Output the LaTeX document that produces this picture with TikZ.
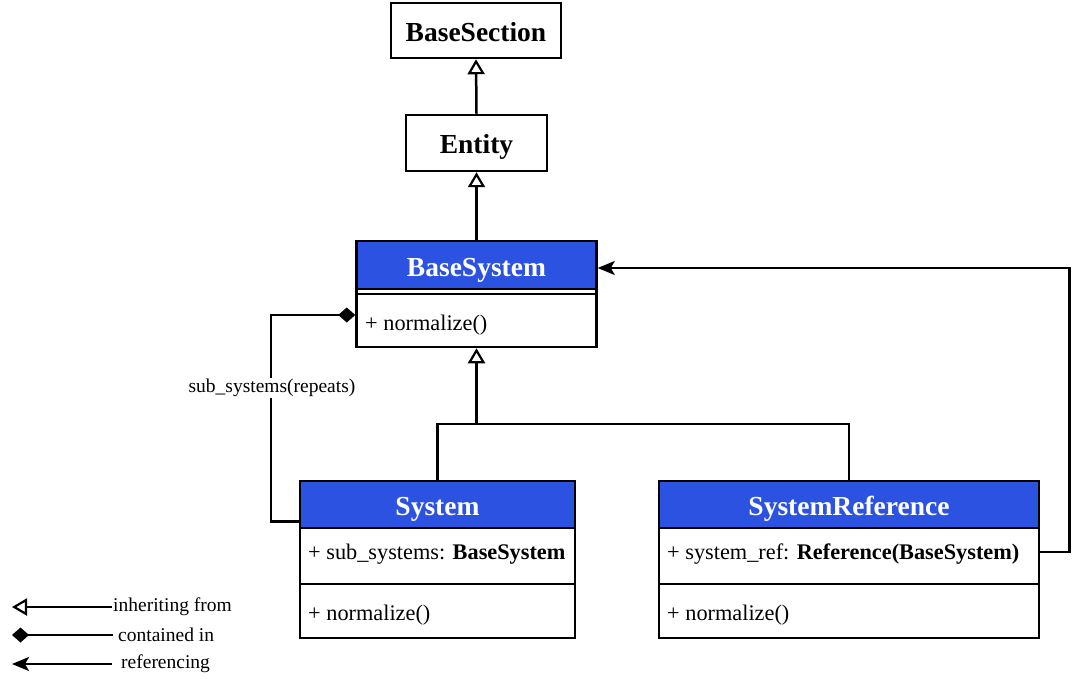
\documentclass[tikz,border=0pt]{standalone}
\usepackage{fontspec}
\setmainfont{Liberation Serif}
\usepackage{tikz}
\usetikzlibrary{arrows.meta, positioning, calc}
\definecolor{hdrblue}{RGB}{43,82,224}
\definecolor{mydark}{RGB}{0,0,0}
\tikzset{
  plainbox/.style={rectangle, draw=mydark, fill=white, line width=2.5pt,
    font=\fontsize{27.5}{32}\selectfont\bfseries, inner sep=0pt, text height=22pt, text depth=0pt},
  hdrbox/.style={rectangle, draw=mydark, fill=hdrblue, text=white, line width=2.5pt,
    font=\fontsize{27.5}{32}\selectfont\bfseries, inner sep=0pt, text height=22pt, text depth=0pt},
  bodybox/.style={rectangle, draw=mydark, fill=white, line width=2.5pt, inner sep=0pt},
  member/.style={anchor=west, font=\fontsize{22.3}{26}\selectfont, inner sep=0pt},
  lbl/.style={font=\fontsize{19.5}{23}\selectfont, inner sep=1pt},
  inherit/.style={-{Triangle[open, fill=white, length=15pt, width=17pt, line width=2.2pt]}, line width=2.5pt, color=mydark},
  contain/.style={-{Diamond[length=17pt, width=15pt]}, line width=2.5pt, color=mydark},
  refer/.style={-{Stealth[length=17pt, width=14pt, inset=4pt]}, line width=2.5pt, color=mydark},
  line/.style={line width=2.5pt, color=mydark}
}
\begin{document}
\begin{tikzpicture}[x=1pt, y=-1pt]
  \useasboundingbox (0,0) rectangle (1081,679);

  % Top classes
  \node[plainbox, minimum width=170pt, minimum height=55pt] (bsec) at (476,30.5) {BaseSection};
  \node[plainbox, minimum width=141pt, minimum height=56pt] (ent) at (476.5,143) {Entity};

  % BaseSystem
  \node[bodybox, minimum width=240pt, minimum height=58pt] (bsysbody) at (476.5,318) {};
  \node[hdrbox, minimum width=240pt, minimum height=48pt] (bsys) at (476.5,265) {BaseSystem};
  \draw[line] ($(bsysbody.north west)+(0,6)$) -- ($(bsysbody.north east)+(0,6)$);
  \node[member] (bsysm) at (365,325) {+ normalize()};

  % System
  \node[bodybox, minimum width=275pt, minimum height=56pt] (sysattr) at (437.5,556) {};
  \node[bodybox, minimum width=275pt, minimum height=54pt] (sysmeth) at (437.5,611) {};
  \node[hdrbox, minimum width=275pt, minimum height=47pt] (sys) at (437.5,504.5) {System};
  \node[member] (sysa) at (308,554) {+ sub\_systems: \textbf{BaseSystem}};
  \node[member] (sysm) at (308,615) {+ normalize()};

  % SystemReference
  \node[bodybox, minimum width=380pt, minimum height=56pt] (srefattr) at (849,556) {};
  \node[bodybox, minimum width=380pt, minimum height=54pt] (srefmeth) at (849,611) {};
  \node[hdrbox, minimum width=380pt, minimum height=47pt] (sref) at (849,504.5) {SystemReference};
  \node[member] (srefa) at (667,554) {+ system\_ref: \textbf{Reference(BaseSystem)}};
  \node[member] (srefm) at (667,615) {+ normalize()};

  % Inheritance
  \draw[inherit] (ent.north) -- (bsec.south);
  \draw[inherit] (bsys.north) -- (ent.south);
  \coordinate (jn) at (476.5,424);
  \draw[line] (sys.north) |- (jn) -| (sref.north);
  \draw[inherit] (jn) -- (bsysbody.south);

  % Containment
  \draw[contain] ($(sys.south west)+(0,-8)$) -- ++(-28,0) |- ($(bsysbody.west)+(0,-3)$);
  \node[lbl, fill=white] (subl) at (272,388) {sub\_systems(repeats)};

  % Reference
  \draw[refer] ($(srefattr.east)+(0,-4)$) -- ++(29,0) |- ($(bsys.east)+(0,3)$);

  % Legend
  \node[lbl, anchor=west] (leginh) at (112,607) {inheriting from};
  \node[lbl, anchor=west] (legcon) at (117,635) {contained in};
  \node[lbl, anchor=west] (legref) at (120,664) {referencing};
  \coordinate (leginhend) at (12,607);
  \coordinate (legconend) at (12,635);
  \coordinate (legrefend) at (12,664);
  \draw[inherit] (leginh.west) -- (leginhend);
  \draw[contain] ($(legcon.west)+(-4,0)$) -- (legconend);
  \draw[refer] ($(legref.west)+(-8,0)$) -- (legrefend);
\end{tikzpicture}
\end{document}
